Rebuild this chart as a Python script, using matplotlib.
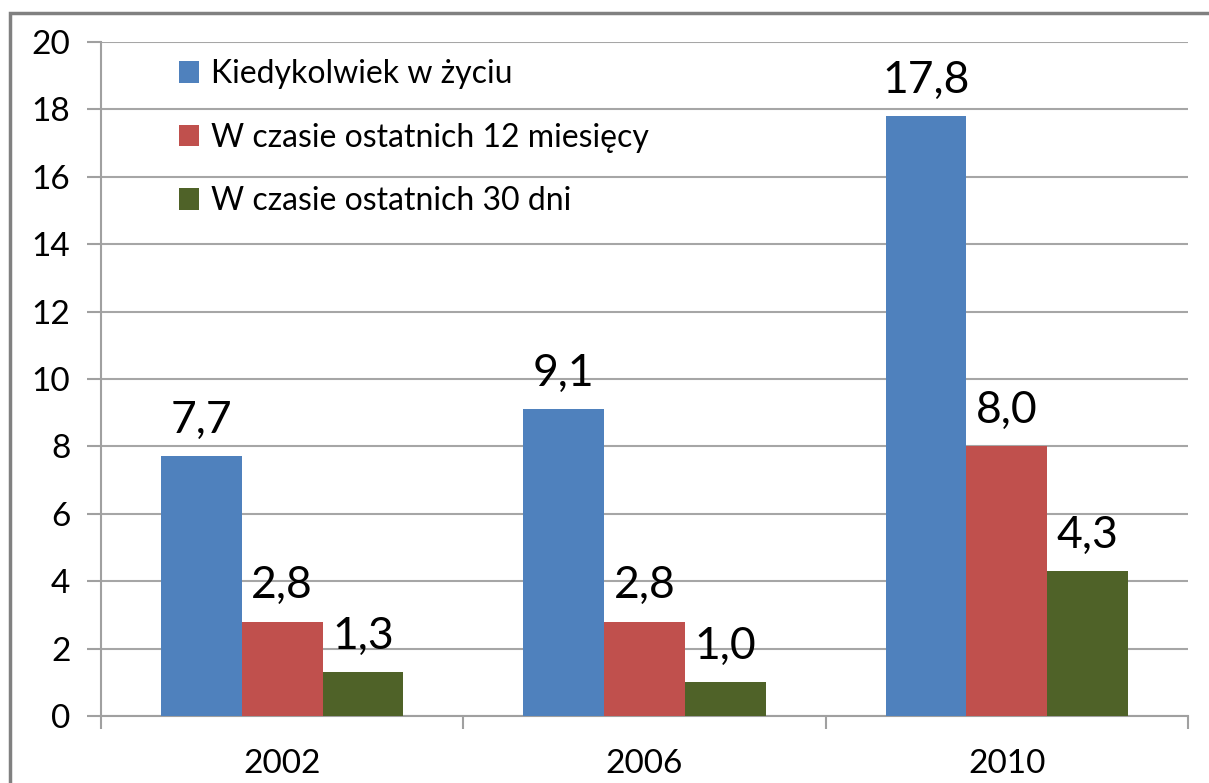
import numpy as np
import matplotlib.pyplot as plt
from matplotlib.patches import Rectangle

plt.rcParams['font.family'] = ['Lato', 'DejaVu Sans']

years = ["2002", "2006", "2010"]
series = ["Kiedykolwiek w życiu", "W czasie ostatnich 12 miesięcy", "W czasie ostatnich 30 dni"]
ever = [7.7, 9.1, 17.8]
last_12m = [2.8, 2.8, 8.0]
last_30d = [1.3, 1.0, 4.3]
colors = ["#4F81BD", "#C0504D", "#4F6228"]

fig = plt.figure(figsize=(12.09, 7.83), dpi=100)
ax = fig.add_axes([0.0835, 0.0856, 0.8991, 0.8608])

x = np.arange(len(years))
w = 0.223
for k, (vals, name, col) in enumerate(zip([ever, last_12m, last_30d], series, colors)):
    bars = ax.bar(x + (k - 1) * w, vals, w, color=col, label=name, zorder=3)
    for b, v in zip(bars, vals):
        ax.annotate(f"{v:.1f}".replace(".", ","), (b.get_x() + b.get_width() / 2, v),
                    xytext=(0, 11), textcoords="offset points",
                    ha="center", va="bottom", fontsize=32)

ax.set_xlim(-0.5, 2.5)
ax.set_ylim(0, 20)
ax.set_yticks(range(0, 21, 2))
ax.set_xticks(x)
ax.set_xticklabels(years)
ax.set_xticks([-0.5, 0.5, 1.5, 2.5], minor=True)
ax.tick_params(axis="x", which="major", length=0, labelsize=24, pad=24)
ax.tick_params(axis="x", which="minor", length=9, width=1.5, color="#a0a0a0")
ax.tick_params(axis="y", length=10, width=1.5, color="#a0a0a0", labelsize=24, pad=12)

ax.grid(axis="y", color="#a6a6a6", linewidth=1.5, zorder=0)
for s in ["top", "right"]:
    ax.spines[s].set_visible(False)
for s in ["left", "bottom"]:
    ax.spines[s].set_color("#a0a0a0")
    ax.spines[s].set_linewidth(1.5)

leg = ax.legend(loc="upper left", bbox_to_anchor=(0.045, 1.017), frameon=False,
                fontsize=23, handlelength=0.65, handleheight=0.65, handletextpad=0.35,
                labelspacing=1.05)

fig.patches.append(Rectangle((10 / 1209, -0.05), 1.1, 1 - 13 / 783 + 0.05,
                             transform=fig.transFigure, fill=False,
                             edgecolor="#808080", linewidth=2.5))

fig.savefig("out.png", dpi=100)
